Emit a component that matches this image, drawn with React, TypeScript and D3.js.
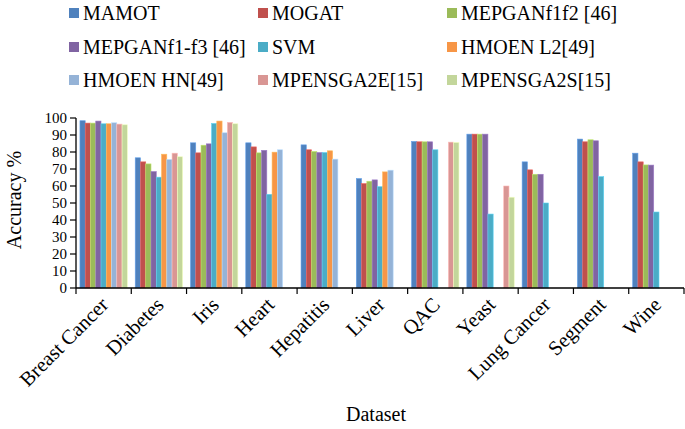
import React from "react";
import * as d3 from "d3";

const categories = ["Breast Cancer", "Diabetes", "Iris", "Heart", "Hepatitis", "Liver", "QAC", "Yeast", "Lung Cancer", "Segment", "Wine"];
const seriesNames = ["MAMOT", "MOGAT", "MEPGANf1f2 [46]", "MEPGANf1-f3 [46]", "SVM", "HMOEN L2[49]", "HMOEN HN[49]", "MPENSGA2E[15]", "MPENSGA2S[15]"];
const mamot = [98.4, 76.6, 85.4, 85.4, 84.2, 64.4, 86.2, 90.5, 74.2, 87.6, 79.3];
const mogat = [97, 74.2, 79.5, 83, 81.3, 61.4, 86, 90.5, 69.5, 86, 74.2];
const mepf1f2 = [97, 73, 84, 79.5, 80.3, 62.8, 86, 90.5, 66.9, 87.2, 72.4];
const mepf1f3 = [98.2, 68.5, 84.8, 81, 79.7, 63.6, 86, 90.5, 66.9, 86.6, 72.3];
const svm = [96.6, 65.2, 96.8, 55.1, 79.7, 59.6, 81.3, 43.5, 50, 65.5, 44.7];
const hmoenL2 = [96.6, 78.7, 98.2, 79.9, 80.7, 68.3, null, null, null, null, null];
const hmoenHN = [97.2, 75.6, 91.3, 81.3, 75.8, 69.3, null, null, null, null, null];
const mpensga2E = [96.4, 79.3, 97.4, null, null, null, 85.8, 60, null, null, null];
const mpensga2S = [96, 77.2, 96.6, null, null, null, 85.6, 53.4, null, null, null];
const yTicks = [0, 10, 20, 30, 40, 50, 60, 70, 80, 90, 100];

const seriesValues: (number | null)[][] = [mamot, mogat, mepf1f2, mepf1f3, svm, hmoenL2, hmoenHN, mpensga2E, mpensga2S];
const colors = ["#4F81BD", "#C0504D", "#9BBB59", "#8064A2", "#4BACC6", "#F79646", "#95B3D7", "#D99694", "#C3D69B"];

const W = 685, H = 429;
const left = 76, right = 684, top = 118, bottom = 288;
const font = "'Liberation Serif', 'Times New Roman', serif";

export default function App() {
  const x = d3.scaleBand<string>().domain(categories).range([left, right]).paddingInner(0).paddingOuter(0);
  const bw = x.bandwidth();
  const slot = bw / 10.5;
  const xs = d3.scaleBand<string>().domain(seriesNames).range([0.75 * slot, bw - 0.75 * slot]).padding(0);
  const y = d3.scaleLinear().domain([0, 100]).range([bottom, top]);

  const legendCols = [69, 258, 447];
  const legendRows = [13, 47, 80];

  return (
    <svg width={W} height={H} style={{ position: "absolute", left: 0, top: 0, background: "#fff" }} fontFamily={font}>
      <rect x={0} y={0} width={W} height={H} fill="#fff" />
      {/* legend */}
      {seriesNames.map((s, i) => {
        const cx = legendCols[i % 3];
        const cy = legendRows[Math.floor(i / 3)];
        return (
          <g key={s}>
            <rect x={cx} y={cy - 5} width={10} height={10} fill={colors[i]} />
            <text x={cx + 14} y={cy} dy="0.35em" fontSize={20} fill="#000">{s}</text>
          </g>
        );
      })}
      {/* bars */}
      {seriesValues.map((vals, si) => (
        <g key={si}>
          {vals.map((v, ci) =>
            v == null ? null : (
              <rect
                key={ci}
                x={(x(categories[ci]) as number) + (xs(seriesNames[si]) as number)}
                y={y(v)}
                width={xs.bandwidth()}
                height={y(0) - y(v)}
                fill={colors[si]}
                stroke={d3.color(colors[si])!.brighter(0.6).formatHex()}
                strokeWidth={0.6}
              />
            )
          )}
        </g>
      ))}
      {/* y axis */}
      <line x1={left} x2={left} y1={top} y2={bottom} stroke="#000" strokeWidth={1.3} />
      {yTicks.map((t) => (
        <g key={t}>
          <line x1={left - 6} x2={left} y1={y(t)} y2={y(t)} stroke="#000" strokeWidth={1.2} />
          <text x={left - 9} y={y(t)} dy="0.33em" textAnchor="end" fontSize={15} fill="#000">{t}</text>
        </g>
      ))}
      {/* x axis */}
      <line x1={left} x2={right} y1={bottom} y2={bottom} stroke="#000" strokeWidth={1.3} />
      {categories.map((c) => (
        <line key={c} x1={x(c) as number} x2={x(c) as number} y1={bottom} y2={bottom + 6} stroke="#000" strokeWidth={1.2} />
      ))}
      <line x1={right} x2={right} y1={bottom} y2={bottom + 6} stroke="#000" strokeWidth={1.2} />
      {categories.map((c) => {
        const cx = (x(c) as number) + bw / 2 + 6;
        const cy = bottom + 18;
        return (
          <text key={c} transform={`translate(${cx},${cy}) rotate(-45)`} textAnchor="end" fontSize={20.5} fill="#000">{c}</text>
        );
      })}
      <text x={(left + right) / 2 - 4} y={421} textAnchor="middle" fontSize={20} fill="#000">Dataset</text>
      <text transform={`translate(21,${(top + bottom) / 2 - 3}) rotate(-90)`} textAnchor="middle" fontSize={20} fill="#000">Accuracy %</text>
    </svg>
  );
}
